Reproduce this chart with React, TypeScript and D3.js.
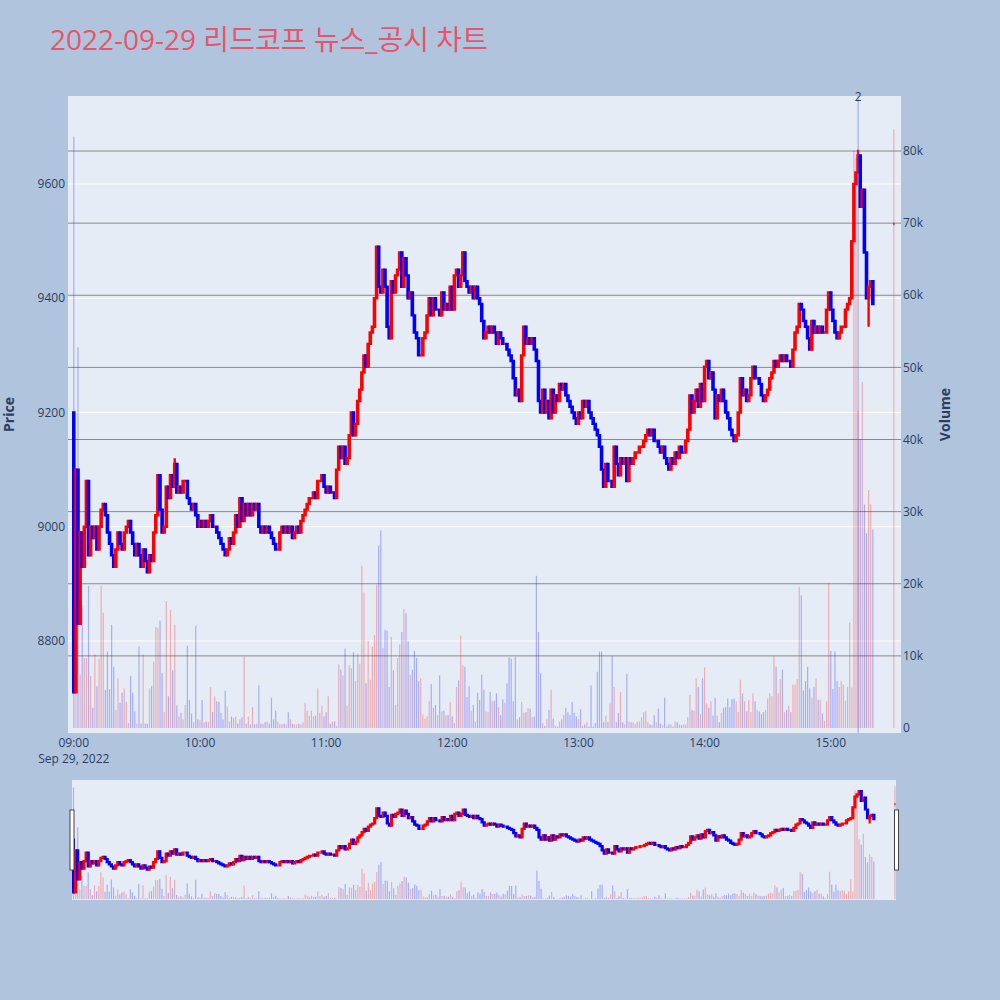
import React from "react";
import * as d3 from "d3";

// ---------------- DATA ----------------
const chartTitle = "2022-09-29 리드코프 뉴스_공시 차트";
const sessionStart = new Date(2022, 8, 29, 9, 0, 0);
const firstOpen = 9200;

// 1-minute closes from 09:00 to 15:20 (381 values)
const closePrices: number[] = [
  8710, 9100, 8830, 8990, 8930, 9000, 9080, 8950, 9000, 8980,
  9000, 8960, 9000, 9030, 9040, 9020, 8990, 8970, 8950, 8930,
  8960, 8990, 8970, 8960, 8990, 9000, 9010, 8990, 8970, 8950,
  8970, 8950, 8930, 8960, 8940, 8920, 8950, 8940, 8990, 9020,
  9090, 9030, 8990, 9000, 9070, 9050, 9090, 9070, 9110, 9060,
  9070, 9060, 9080, 9080, 9050, 9040, 9030, 9040, 9020, 9000,
  9010, 9000, 9010, 9000, 9010, 9020, 9000, 9000, 8990, 8980,
  8970, 8960, 8950, 8960, 8980, 8970, 8990, 9020, 9000, 9050,
  9010, 9040, 9020, 9040, 9020, 9040, 9030, 9040, 9000, 8990,
  9000, 8990, 9000, 8990, 8980, 8970, 8960, 8960, 8990, 9000,
  8990, 9000, 8990, 9000, 8980, 8990, 9000, 8990, 9010, 9020,
  9030, 9040, 9050, 9050, 9060, 9050, 9080, 9080, 9090, 9070,
  9060, 9070, 9060, 9060, 9050, 9100, 9140, 9120, 9140, 9110,
  9120, 9160, 9200, 9160, 9180, 9220, 9240, 9270, 9300, 9280,
  9320, 9340, 9350, 9400, 9490, 9420, 9410, 9450, 9420, 9350,
  9330, 9430, 9410, 9440, 9450, 9480, 9420, 9470, 9440, 9400,
  9410, 9370, 9340, 9330, 9300, 9300, 9330, 9340, 9370, 9400,
  9370, 9400, 9380, 9380, 9370, 9410, 9380, 9390, 9380, 9420,
  9380, 9440, 9450, 9420, 9440, 9480, 9430, 9420, 9410, 9420,
  9400, 9420, 9400, 9390, 9360, 9330, 9340, 9350, 9340, 9350,
  9340, 9320, 9340, 9330, 9320, 9320, 9310, 9300, 9290, 9260,
  9230, 9240, 9220, 9300, 9350, 9320, 9330, 9320, 9330, 9310,
  9290, 9220, 9200, 9240, 9200, 9220, 9190, 9240, 9200, 9230,
  9220, 9250, 9240, 9250, 9230, 9220, 9210, 9200, 9190, 9180,
  9200, 9190, 9220, 9210, 9220, 9200, 9190, 9180, 9170, 9160,
  9140, 9100, 9070, 9110, 9080, 9080, 9070, 9140, 9110, 9090,
  9120, 9110, 9120, 9080, 9120, 9110, 9120, 9130, 9130, 9140,
  9140, 9150, 9160, 9170, 9160, 9170, 9150, 9150, 9140, 9130,
  9140, 9120, 9110, 9100, 9120, 9110, 9130, 9120, 9140, 9130,
  9130, 9150, 9170, 9230, 9200, 9220, 9240, 9210, 9250, 9220,
  9280, 9290, 9260, 9270, 9240, 9190, 9230, 9220, 9240, 9220,
  9200, 9190, 9170, 9160, 9150, 9160, 9200, 9260, 9230, 9240,
  9220, 9230, 9260, 9280, 9260, 9260, 9250, 9230, 9220, 9230,
  9240, 9260, 9270, 9290, 9280, 9290, 9300, 9290, 9300, 9290,
  9290, 9280, 9310, 9340, 9350, 9390, 9380, 9360, 9350, 9330,
  9310, 9360, 9340, 9350, 9340, 9350, 9340, 9340, 9380, 9410,
  9380, 9360, 9340, 9330, 9340, 9350, 9350, 9380, 9390, 9400,
  9500, 9600, 9620, 9650, 9560, 9590, 9480, 9400, 9420, 9430, 9390,
];

// 1-minute volumes in thousands of shares (381 values)
const volumeK: number[] = [
  82, 18, 52.8, 7.4, 17, 9.7, 9.7, 19.7, 7.2, 2.8,
  10.2, 5.8, 9.6, 19.7, 16, 5.3, 10.6, 5.4, 14.3, 8.5,
  2.5, 6.9, 3.5, 4.9, 5.5, 3.6, 0.7, 7.2, 4.9, 2.3,
  0.6, 11.3, 0.6, 10.2, 0.6, 0.6, 5.5, 5.8, 9.2, 14,
  13.9, 14.9, 7.6, 2.2, 17.6, 4.4, 16.4, 8, 14.3, 3.1,
  1.6, 2.1, 1.2, 3.2, 11.4, 3.9, 2, 0.8, 14.2, 1.2,
  1.1, 3.9, 0.8, 0.9, 0.8, 5.7, 2.2, 4.4, 3.7, 3.6,
  2.1, 1.2, 5.2, 3, 0.9, 1.6, 1.4, 1.6, 0.6, 1.2,
  1.5, 9.9, 0.6, 1.6, 0.5, 2.9, 0.5, 0.6, 5.9, 0.6,
  0.6, 0.8, 0.9, 0.6, 4.2, 1.2, 2.4, 0.9, 0.6, 0.5,
  0.6, 0.5, 2.2, 1.2, 0.6, 0.5, 0.5, 0.6, 0.5, 0.8,
  3.5, 2.4, 1.7, 2.4, 1.6, 1.7, 5.5, 2.1, 3.1, 1.6,
  2.2, 4.4, 0.6, 0.9, 0.9, 0.3, 8.8, 8.1, 7.3, 11,
  3.1, 8.7, 8.3, 10.5, 6.5, 10.3, 8.9, 22.5, 18.8, 6.2,
  12.1, 6.7, 11.3, 12.9, 19.9, 25.3, 27.4, 11.1, 13.6, 13.5,
  5.7, 12.6, 8, 3.2, 9.7, 11.6, 13.3, 16.5, 15.9, 12,
  7.4, 8.1, 10.7, 9.7, 6.5, 6.9, 1.9, 1.3, 1.6, 3.7,
  6.1, 2.8, 3.2, 1.8, 7.3, 2.3, 2.4, 1.8, 1.8, 3.6,
  1.6, 0.7, 5.7, 6.6, 12.8, 8.7, 8.5, 4.3, 5.8, 2.4,
  3.2, 0.9, 4.9, 3.9, 7.4, 5.3, 2.3, 2.2, 5, 3.7,
  3.8, 4.8, 2.9, 1.8, 4, 3.5, 6.2, 9.8, 9.6, 3.7,
  9.9, 1.2, 1.5, 3.6, 2.1, 2.2, 2.8, 2.7, 1.5, 1.6,
  21.1, 13.3, 7.6, 0.7, 0.3, 1.2, 2.5, 5.3, 1.3, 0.3,
  0.2, 0.9, 1.2, 1.8, 2.8, 2.2, 1.8, 3.6, 2.1, 1.6,
  1.2, 2.6, 0.3, 0.5, 0.8, 0.2, 5.9, 0.2, 0.7, 7.8,
  10.6, 10.6, 0.8, 1.7, 0.8, 3.4, 10, 5.7, 0.8, 2.1,
  5, 0.8, 0.5, 7.5, 0.9, 0.8, 0.8, 0.6, 0.9, 0.9,
  1.5, 2.2, 2.3, 0.8, 0.5, 0.4, 1.8, 0.8, 2.7, 0.6,
  0.4, 4.2, 0.2, 0.5, 0.5, 0.2, 0.9, 0.8, 0.5, 0.4,
  0.5, 0.5, 1.5, 4.6, 2.5, 2.4, 6.9, 5.7, 1.9, 6.9,
  8.4, 3.4, 2.8, 3.7, 1.7, 4.2, 1.7, 0.8, 2.1, 2.8,
  2.9, 4.1, 2.9, 4, 4.1, 3.7, 2.2, 6.7, 4.8, 3.7,
  2.3, 3.9, 2.2, 4.8, 3.7, 2.5, 2.3, 1.9, 2.2, 2.5,
  4.1, 4.8, 4.4, 10, 8.5, 4.8, 6.8, 8.1, 2.2, 2.5,
  3.1, 2.2, 6, 6, 6.8, 19.6, 18.4, 5.2, 6.5, 8.5,
  5.5, 4.2, 5.7, 6.9, 3.9, 3.9, 2, 1, 3.7, 20.1,
  10.7, 5.4, 10.6, 6.5, 5.7, 6.5, 6, 3.8, 5.7, 14.6,
  5.6, 80, 79, 44, 40, 48, 31, 27, 33, 31, 27.5,
];

// closing single-price auction at 15:30
const closingAuction = { minute: 390, price: 9530, volumeK: 83 };

// a few visible wicks beyond the bodies: [minute, price]
const wickHighs: [number, number][] = [[48, 9120], [373, 9660]];
const wickLows: [number, number][] = [[378, 9350]];

// news marker: [minute, count]
const newsMarks: [number, number][] = [[373, 2]];

const priceTicks = [8800, 9000, 9200, 9400, 9600];
const volumeTicksK = [0, 10, 20, 30, 40, 50, 60, 70, 80];

// ---------------- STYLE ----------------
const PAPER = "#B0C4DE";
const PLOT_BG = "#E5ECF6";
const UP = "#FF0000";
const DOWN = "#0000FF";
const UP_VOL = "rgba(255,0,0,0.27)";
const DOWN_VOL = "rgba(0,0,255,0.27)";
const FONT = "'Open Sans', 'Noto Sans CJK KR', sans-serif";
const TXT = "#2a3f5f";

const MAIN = { left: 68, right: 901, top: 96, bottom: 733 };
const SLIDER = { left: 72, right: 896, top: 780, bottom: 900 };

type Candle = { t: Date; o: number; h: number; l: number; c: number; v: number; up: boolean };

const atMinute = (m: number) => new Date(sessionStart.getTime() + m * 60000);

function buildCandles(): Candle[] {
  const hi = new Map(wickHighs);
  const lo = new Map(wickLows);
  const out: Candle[] = [];
  let prevClose = firstOpen;
  closePrices.forEach((c, i) => {
    const o = i === 0 ? firstOpen : closePrices[i - 1];
    const h = Math.max(o, c, hi.get(i) ?? -Infinity);
    const l = Math.min(o, c, lo.get(i) ?? Infinity);
    const up = c > o || (c === o && c >= prevClose);
    out.push({ t: atMinute(i), o, h, l, c, v: volumeK[i], up });
    prevClose = c;
  });
  const p = closingAuction.price;
  out.push({
    t: atMinute(closingAuction.minute), o: p, h: p, l: p, c: p,
    v: closingAuction.volumeK, up: p >= prevClose,
  });
  return out;
}

function candlePath(x: number, yo: number, yc: number, yh: number, yl: number, hw: number) {
  const top = Math.min(yo, yc);
  const bot = Math.max(yo, yc);
  return `M${x - hw},${top}H${x + hw}V${bot}H${x - hw}Z M${x},${yh}V${top} M${x},${bot}V${yl}`;
}

export default function App() {
  const candles = buildCandles();

  const x = d3.scaleTime().domain([atMinute(-2.758), atMinute(393.4)]).range([MAIN.left, MAIN.right]);
  const yP = d3.scaleLinear().domain([8638.9, 9754]).range([MAIN.bottom, MAIN.top]);
  const yV = d3.scaleLinear().domain([-0.693, 87.63]).range([MAIN.bottom, MAIN.top]);

  const sx = d3.scaleTime().domain([atMinute(-0.7), atMinute(390.5)]).range([SLIDER.left, SLIDER.right]);
  const sP = d3.scaleLinear().domain([8638.9, 9754]).range([SLIDER.bottom, SLIDER.top]);
  const sV = d3.scaleLinear().domain([-0.693, 87.63]).range([SLIDER.bottom, SLIDER.top]);

  const hourTicks = x.ticks(d3.timeHour.every(1)).filter((d) => x(d) >= MAIN.left && x(d) <= MAIN.right);
  const fmt = d3.timeFormat("%H:%M");

  return (
    <svg width={1000} height={1000} style={{ position: "absolute", left: 0, top: 0 }} fontFamily={FONT}>
      <defs>
        <clipPath id="mainClip">
          <rect x={MAIN.left} y={MAIN.top} width={MAIN.right - MAIN.left} height={MAIN.bottom - MAIN.top} />
        </clipPath>
        <clipPath id="sliderClip">
          <rect x={SLIDER.left} y={SLIDER.top} width={SLIDER.right - SLIDER.left} height={SLIDER.bottom - SLIDER.top} />
        </clipPath>
      </defs>
      <rect x={0} y={0} width={1000} height={1000} fill={PAPER} />
      <text x={50} y={50} fontSize={28} fill="#E8546A">{chartTitle}</text>

      {/* main plot */}
      <rect x={MAIN.left} y={MAIN.top} width={MAIN.right - MAIN.left} height={MAIN.bottom - MAIN.top} fill={PLOT_BG} />
      {priceTicks.map((p) => (
        <line key={"pg" + p} x1={MAIN.left} x2={MAIN.right} y1={yP(p)} y2={yP(p)} stroke="#ffffff" strokeWidth={1} />
      ))}
      {volumeTicksK.filter((v) => v > 0).map((v) => (
        <line key={"vg" + v} x1={MAIN.left} x2={MAIN.right} y1={yV(v)} y2={yV(v)} stroke="#8a8a8a" strokeWidth={1} />
      ))}
      <g clipPath="url(#mainClip)">
        {candles.map((d, i) => (
          <path key={"c" + i}
            d={candlePath(x(d.t), yP(d.o), yP(d.c), yP(d.h), yP(d.l), 0.6)}
            fill={d.up ? UP : DOWN} stroke={d.up ? UP : DOWN} strokeWidth={2.4} />
        ))}
        {candles.map((d, i) => (
          <rect key={"v" + i} x={x(d.t) - 0.6} width={1.2} y={yV(d.v)} height={yV(0) - yV(d.v)}
            fill={d.up ? UP_VOL : DOWN_VOL} />
        ))}
        {newsMarks.map(([m], i) => (
          <line key={"n" + i} x1={x(atMinute(m))} x2={x(atMinute(m))} y1={MAIN.top} y2={MAIN.bottom}
            stroke="rgba(60,90,255,0.35)" strokeWidth={1.5} />
        ))}
      </g>
      {newsMarks.map(([m, n], i) => (
        <text key={"nt" + i} x={x(atMinute(m))} y={101} fontSize={12} fill={TXT} textAnchor="middle">{n}</text>
      ))}

      {/* axes */}
      {hourTicks.map((t, i) => (
        <text key={"xt" + i} x={x(t)} y={747} fontSize={12} fill={TXT} textAnchor="middle">{fmt(t)}</text>
      ))}
      <text x={x(sessionStart)} y={763} fontSize={12} fill={TXT} textAnchor="middle">Sep 29, 2022</text>
      {priceTicks.map((p) => (
        <text key={"yl" + p} x={65} y={yP(p)} dy="0.35em" fontSize={12} fill={TXT} textAnchor="end">{p}</text>
      ))}
      {volumeTicksK.map((v) => (
        <text key={"yr" + v} x={903} y={yV(v)} dy="0.35em" fontSize={12} fill={TXT} textAnchor="start">
          {v === 0 ? "0" : v + "k"}
        </text>
      ))}
      <text transform={`translate(14,${(MAIN.top + MAIN.bottom) / 2}) rotate(-90)`} fontSize={14} fontWeight="bold"
        fill={TXT} textAnchor="middle">Price</text>
      <text transform={`translate(950,${(MAIN.top + MAIN.bottom) / 2}) rotate(-90)`} fontSize={14} fontWeight="bold"
        fill={TXT} textAnchor="middle">Volume</text>

      {/* range slider */}
      <rect x={SLIDER.left} y={SLIDER.top} width={SLIDER.right - SLIDER.left} height={SLIDER.bottom - SLIDER.top} fill={PLOT_BG} />
      <g clipPath="url(#sliderClip)">
        {candles.map((d, i) => (
          <path key={"sc" + i}
            d={candlePath(sx(d.t), sP(d.o), sP(d.c), sP(d.h), sP(d.l), 0.5)}
            fill={d.up ? UP : DOWN} stroke={d.up ? UP : DOWN} strokeWidth={2.2} />
        ))}
        {candles.map((d, i) => (
          <rect key={"sv" + i} x={sx(d.t) - 0.6} width={1.2} y={sV(d.v)} height={sV(0) - sV(d.v)}
            fill={d.up ? UP_VOL : DOWN_VOL} />
        ))}
      </g>
      <rect x={70} y={810} width={4} height={60} fill="#ffffff" stroke="#444" strokeWidth={1} />
      <rect x={894.5} y={810} width={4} height={60} fill="#ffffff" stroke="#444" strokeWidth={1} />
    </svg>
  );
}
